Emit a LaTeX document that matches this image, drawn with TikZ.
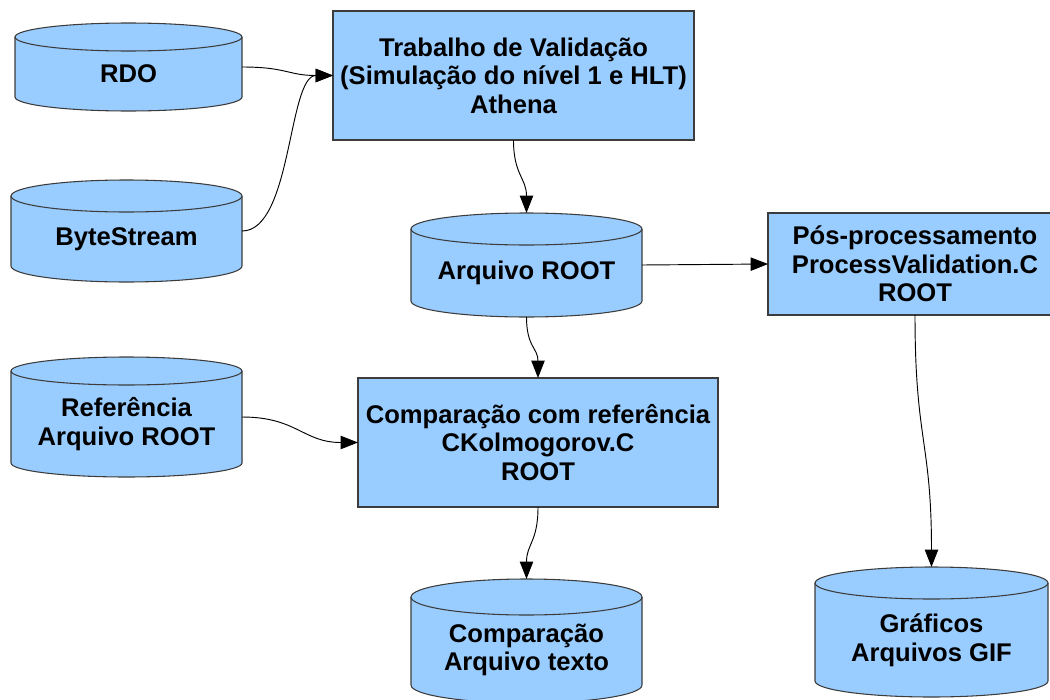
\documentclass[tikz,border=0pt]{standalone}
\usepackage{fontspec}
\setmainfont{Liberation Sans}
\usetikzlibrary{arrows.meta}

\definecolor{boxfill}{HTML}{99CCFF}
\definecolor{edge}{HTML}{3C3C3C}

\tikzset{
  procbox/.style={draw=edge, line width=0.8pt, fill=boxfill, inner sep=0pt, outer sep=0pt,
    align=center, font=\bfseries\fontsize{19.2}{21.4}\selectfont},
  drumbody/.style={draw=edge, line width=0.8pt, fill=boxfill},
  drumrim/.style={draw=edge, line width=0.8pt},
  drumbound/.style={draw=none, inner sep=0pt, outer sep=0pt, minimum height=0pt},
  drumtext/.style={align=center, inner sep=0pt, font=\bfseries\fontsize{19.2}{21.4}\selectfont},
  flow/.style={draw=black, line width=0.7pt, -{Triangle[length=13pt,width=10pt]}},
}

% database drum: name, left x, right x, top y, bottom y, rim radius, text (y grows downwards)
\newcommand\drum[7]{%
  \pgfmathsetmacro\drumrx{(#3-#2)/2}%
  \pgfmathsetmacro\drumup{-(#4+#6)}%
  \pgfmathsetmacro\drumlo{-(#5-#6)}%
  \pgfmathsetmacro\drumw{(#3-#2)*0.75}%
  \pgfmathsetmacro\drumh{(#5-#4)*0.75}%
  \pgfmathsetmacro\drumcx{(#2+#3)/2}%
  \pgfmathsetmacro\drumcy{-(#4+#5)/2}%
  \pgfmathsetmacro\drumty{-(#4+#6+#5)/2}%
  \path[drumbody] (#2,\drumup)
    arc[start angle=180, end angle=0, x radius=\drumrx, y radius=#6]
    -- (#3,\drumlo)
    arc[start angle=0, end angle=-180, x radius=\drumrx, y radius=#6]
    -- cycle;
  \path[drumrim] (#2,\drumup)
    arc[start angle=180, end angle=360, x radius=\drumrx, y radius=#6];
  \node[drumbound, minimum width=\drumw pt, minimum height=\drumh pt] (#1) at (\drumcx,\drumcy) {};
  \node[drumtext] (#1-txt) at (\drumcx,\drumty) {#7};
}

\begin{document}
\begin{tikzpicture}[x=0.75pt, y=0.75pt]
  \useasboundingbox (0,0) rectangle (1050,-700);
  \clip (0,0) rectangle (1050,-700);

  % data stores
  \drum{rdo}{15}{242}{23}{111}{14}{RDO}
  \drum{bs}{11}{242}{180}{282}{16}{ByteStream}
  \drum{arq}{411}{642}{213}{317}{16}{Arquivo ROOT}
  \drum{ref}{11}{242}{357}{477}{14}{Referência\\Arquivo ROOT}
  \drum{txt}{411}{642}{579}{703}{18}{Comparação\\Arquivo texto}
  \drum{gif}{815}{1048}{567}{697}{16}{Gráficos\\Arquivos GIF}

  % processing steps
  \node[procbox, minimum width=270.75pt, minimum height=96.75pt] (trab) at (513.5,-75.5)
    {Trabalho de Validação\\(Simulação do nível 1 e HLT)\\Athena};
  \node[procbox, minimum width=270pt, minimum height=96.75pt] (comp) at (538,-442.5)
    {Comparação com referência\\CKolmogorov.C\\ROOT};
  \node[procbox, minimum width=220.5pt, minimum height=76.5pt] (pos) at (915,-264)
    {Pós-processamento\\ProcessValidation.C\\ROOT};

  % data flow
  \draw[flow] (rdo.east) .. controls +(45,0) and +(-45,0) .. (trab.west);
  \draw[flow] (bs.east) .. controls +(50,0) and +(-45,0) .. (trab.west);
  \draw[flow] (trab.south) .. controls +(0,-35) and +(0,35) .. (arq.north);
  \draw[flow] (arq.east) -- (pos.west);
  \draw[flow] (arq.south) .. controls +(0,-30) and +(0,30) .. (comp.north);
  \draw[flow] (ref.east) .. controls +(55,0) and +(-55,0) .. (comp.west);
  \draw[flow] (comp.south) .. controls +(0,-35) and +(0,35) .. (txt.north);
  \draw[flow] (pos.south) .. controls +(0,-126) and +(0,126) .. (gif.north);
\end{tikzpicture}
\end{document}
